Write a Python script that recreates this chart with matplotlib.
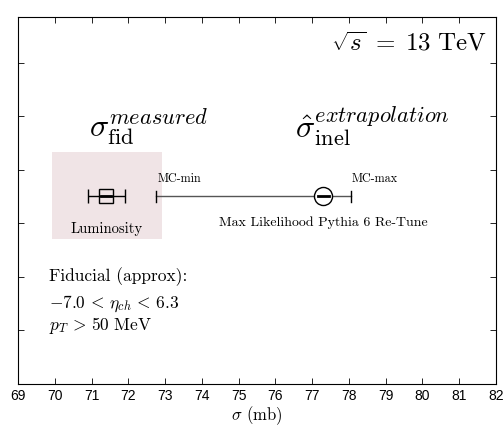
import matplotlib
import matplotlib.pyplot as plt

matplotlib.use("Agg")
matplotlib.rcParams.update({
    'mathtext.fontset': 'cm',
    'font.family': 'serif',
    'font.serif': ['cmr10', 'DejaVu Serif'],
    'axes.unicode_minus': False,
})

# measured fiducial cross section (luminosity band)
lumi_x = 71.4
lumi_err = [0.5]
lumi_band = (69.92, 72.92)

# extrapolated inelastic cross section, MC range
extrap_x = 77.3
mc_min = 72.75
mc_max = 78.05

row_y = 3.5
band_y = (2.71, 4.33)

xticks = list(range(69, 83))

fig = plt.figure(figsize=(5.04, 4.29), dpi=100)
ax = fig.add_axes([18 / 504, 1 - 384 / 429, 478 / 504, 367 / 429])

ax.axvspan(lumi_band[0], lumi_band[1], ymin=band_y[0] / 6.85, ymax=band_y[1] / 6.85,
           color='#f0e4e6', lw=0, zorder=0)

ax.plot([mc_min, mc_max], [row_y, row_y], color='#555555', lw=1.0, zorder=1)
for cap in (mc_min, mc_max):
    ax.plot([cap, cap], [row_y - 0.1, row_y + 0.1], color='black', lw=1.0)
ax.plot(extrap_x, row_y, marker='o', ms=13, mfc='white', mec='black', mew=1.0,
        ls='none', zorder=3)
ax.plot([extrap_x - 0.15, extrap_x + 0.15], [row_y, row_y], color='black', lw=2, zorder=4)

ax.errorbar(lumi_x, row_y, xerr=lumi_err, fmt='s', ms=10, mfc='none', mec='black',
            mew=1.0, ecolor='black', elinewidth=1.0, capsize=5, zorder=3)
ax.plot([lumi_x - 0.13, lumi_x + 0.13], [row_y, row_y], color='black', lw=2, zorder=4)

ax.text(mc_min + 0.05, row_y + 0.22, 'MC-min', fontsize=8.7, ha='left', va='bottom')
ax.text(mc_max + 0.02, row_y + 0.22, 'MC-max', fontsize=8.7, ha='left', va='bottom')
ax.text(extrap_x, row_y - 0.48, 'Max Likelihood Pythia 6 Re-Tune', fontsize=10,
        ha='center', va='center')
ax.text(lumi_x, row_y - 0.6, 'Luminosity', fontsize=10.5, ha='center', va='center')

ax.text(72.55, 4.8, r'$\sigma_{\mathrm{fid}}^{measured}$', fontsize=23,
        ha='center', va='center')
ax.text(78.63, 4.8, r'$\hat{\sigma}_{\mathrm{inel}}^{extrapolation}$', fontsize=23,
        ha='center', va='center')
ax.text(81.75, 6.35, r'$\sqrt{s}\;=\;13\ \mathrm{TeV}$', fontsize=18,
        ha='right', va='center')

ax.text(69.85, 2.0, 'Fiducial (approx):', fontsize=12.5, ha='left', va='center')
ax.text(69.85, 1.5, r'$-7.0\,<\,\eta_{ch}\,<\,6.3$', fontsize=12.5, ha='left', va='center')
ax.text(69.85, 1.1, r'$p_T\,>\,50\ \mathrm{MeV}$', fontsize=12.5, ha='left', va='center')

ax.set_xlim(69, 82)
ax.set_ylim(0, 6.85)
ax.set_xticks(xticks)
ax.set_xticklabels([str(t) for t in xticks], family='Liberation Sans', fontsize=10)
ax.set_yticks([1, 2, 3, 4, 5, 6])
ax.set_yticklabels([])
ax.tick_params(direction='in', top=True, right=True, length=4, width=0.6)
for s in ax.spines.values():
    s.set_linewidth(0.8)
ax.set_xlabel(r'$\sigma$ (mb)', fontsize=12, labelpad=1)

fig.savefig('out.png', dpi=100)
